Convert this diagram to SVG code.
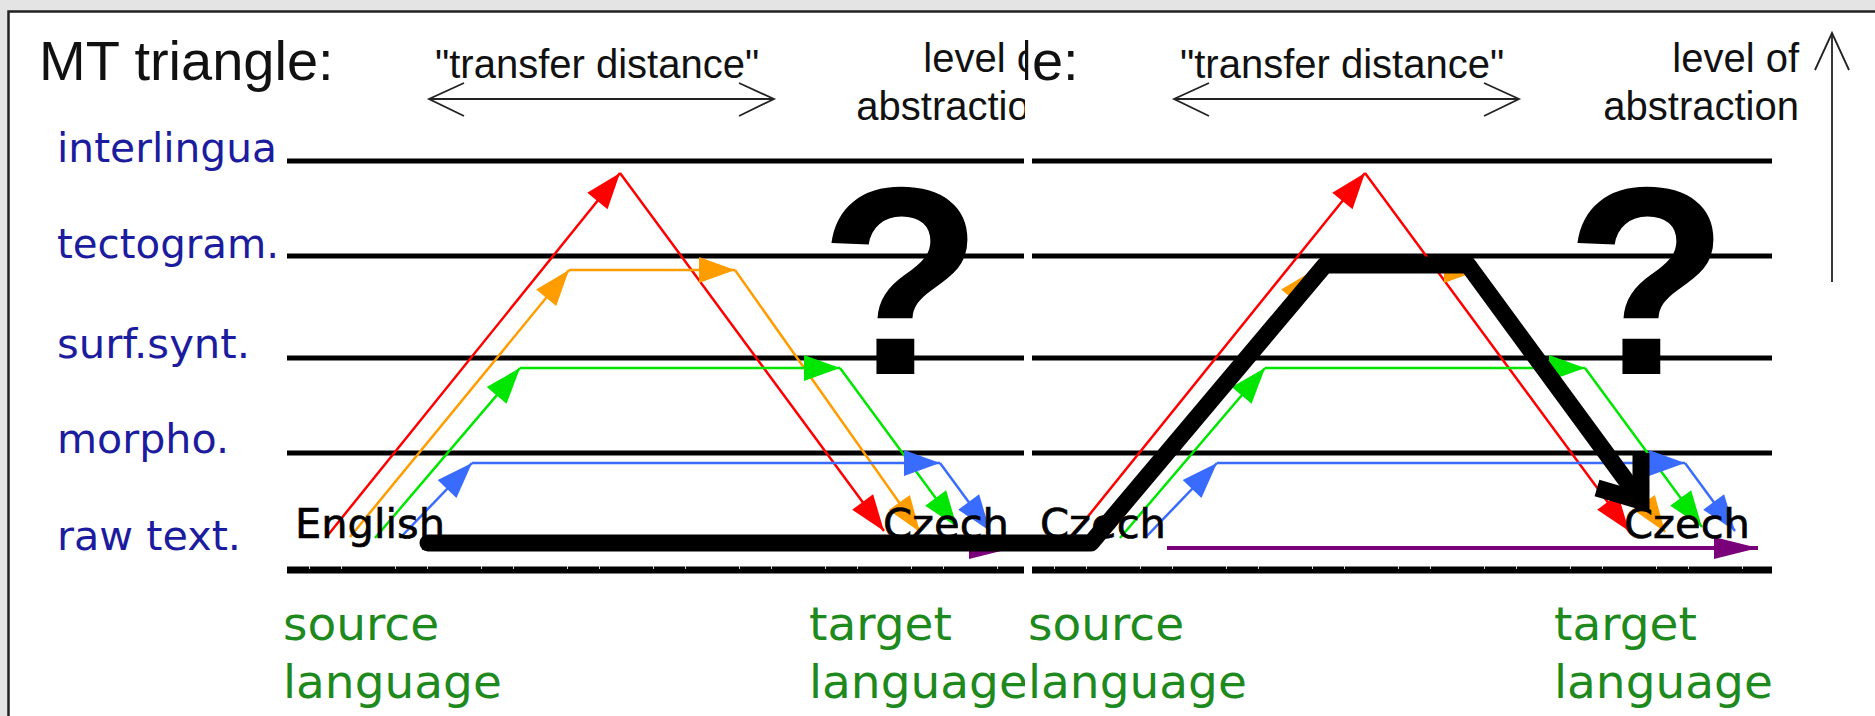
<svg xmlns="http://www.w3.org/2000/svg" width="1875" height="716" viewBox="0 0 1875 716">
<style>
.title{font-family:"Liberation Sans",Arial,sans-serif;font-size:56px;fill:#111}
.hdr{font-family:"Liberation Sans",Arial,sans-serif;font-size:40px;fill:#111}
.lvl{font-family:"DejaVu Sans",sans-serif;font-size:41px;fill:#1c1c9e}
.lang{font-family:"DejaVu Sans",sans-serif;font-size:47px;fill:#1e8a1e}
.word{font-family:"DejaVu Sans",sans-serif;font-size:40px;fill:#000;stroke:#000;stroke-width:0.6}
.q{font-family:"Liberation Sans",Arial,sans-serif;font-weight:bold;font-size:268px;fill:#000}
.lv{stroke:#000;stroke-width:5}
.base{stroke:#000;stroke-width:7}
.tick{stroke:#d8d8d8;stroke-width:3;stroke-dasharray:1 31 1 53}
.thin{stroke:#222;stroke-width:1.8;fill:none}
.c{fill:none;stroke-width:2.5}
.r{stroke:#ff0000}.o{stroke:#ff9c00}.g{stroke:#00e600}.b{stroke:#3a6bff}
.p{stroke:#7a007a;stroke-width:4;fill:none}
.thick{fill:none;stroke:#000;stroke-width:17;stroke-linecap:round;stroke-linejoin:round}
</style>
<defs>
<marker id="mR" viewBox="-38 -15 40 30" refX="0" refY="0" markerWidth="40" markerHeight="30" markerUnits="userSpaceOnUse" orient="auto"><path d="M0 0 L-36 -13 L-36 13 z" fill="#ff0000"/></marker>
<marker id="mO" viewBox="-38 -15 40 30" refX="0" refY="0" markerWidth="40" markerHeight="30" markerUnits="userSpaceOnUse" orient="auto"><path d="M0 0 L-36 -13 L-36 13 z" fill="#ff9c00"/></marker>
<marker id="mG" viewBox="-38 -15 40 30" refX="0" refY="0" markerWidth="40" markerHeight="30" markerUnits="userSpaceOnUse" orient="auto"><path d="M0 0 L-36 -13 L-36 13 z" fill="#00e600"/></marker>
<marker id="mB" viewBox="-38 -15 40 30" refX="0" refY="0" markerWidth="40" markerHeight="30" markerUnits="userSpaceOnUse" orient="auto"><path d="M0 0 L-36 -13 L-36 13 z" fill="#3a6bff"/></marker>
<marker id="mP" viewBox="-46 -13 48 26" refX="0" refY="0" markerWidth="48" markerHeight="26" markerUnits="userSpaceOnUse" orient="auto"><path d="M0 0 L-44 -11 L-44 11 z" fill="#7a007a"/></marker>
<clipPath id="clipL"><rect x="0" y="0" width="1025" height="716"/></clipPath>
<clipPath id="clipR"><rect x="1025" y="0" width="850" height="716"/></clipPath>
</defs>

<g id="frame">
<rect x="0" y="0" width="1875" height="716" fill="#e4e4e4"/>
<rect x="8.5" y="11.5" width="1880" height="720" fill="#fff" stroke="#222" stroke-width="2.5"/>
</g>

<!-- LEFT PANEL -->
<g id="panel-left" clip-path="url(#clipL)">
<g id="title-left"><text class="title" x="39" y="80">MT triangle:</text></g>
<g id="transfer-left">
<text class="hdr" x="435" y="78">"transfer distance"</text>
<line class="thin" x1="429" y1="99" x2="774" y2="99"/>
<polyline class="thin" points="464,83 429,99 464,116"/>
<polyline class="thin" points="739,83 774,99 739,116"/>
</g>
<g id="abstraction-left">
<text class="hdr" x="1050" y="72" text-anchor="end">level of</text>
<text class="hdr" x="1052" y="120" text-anchor="end">abstraction</text>
</g>
<g id="levels-left">
<text class="lvl" x="57" y="162" textLength="220" lengthAdjust="spacingAndGlyphs">interlingua</text>
<text class="lvl" x="57" y="258" textLength="222" lengthAdjust="spacingAndGlyphs">tectogram.</text>
<text class="lvl" x="57" y="358" textLength="193" lengthAdjust="spacingAndGlyphs">surf.synt.</text>
<text class="lvl" x="57" y="453" textLength="172" lengthAdjust="spacingAndGlyphs">morpho.</text>
<text class="lvl" x="57" y="550" textLength="184" lengthAdjust="spacingAndGlyphs">raw text.</text>
</g>
<g id="lines-left">
<line class="lv" x1="287" y1="161" x2="1024" y2="161"/>
<line class="lv" x1="287" y1="256" x2="1024" y2="256"/>
<line class="lv" x1="287" y1="358" x2="1024" y2="358"/>
<line class="lv" x1="287" y1="453" x2="1024" y2="453"/>
<line class="base" x1="287" y1="570" x2="1024" y2="570"/>
<line class="tick" x1="309" y1="567.5" x2="1024" y2="567.5"/>
</g>
<g id="question-left"><text class="q" x="901" y="374" text-anchor="middle">?</text></g>
<g id="connectors-left">
<line class="c r" x1="328" y1="535" x2="620" y2="173" marker-end="url(#mR)"/>
<line class="c r" x1="620" y1="173" x2="884" y2="531" marker-end="url(#mR)"/>
<line class="c o" x1="350" y1="537" x2="569" y2="270" marker-end="url(#mO)"/>
<line class="c o" x1="569" y1="270" x2="735" y2="270" marker-end="url(#mO)"/>
<line class="c o" x1="735" y1="270" x2="920" y2="532" marker-end="url(#mO)"/>
<line class="c g" x1="375" y1="538" x2="520" y2="368" marker-end="url(#mG)"/>
<line class="c g" x1="520" y1="368" x2="840" y2="368" marker-end="url(#mG)"/>
<line class="c g" x1="840" y1="368" x2="957" y2="527" marker-end="url(#mG)"/>
<line class="c b" x1="400" y1="538" x2="472" y2="463" marker-end="url(#mB)"/>
<line class="c b" x1="472" y1="463" x2="940" y2="463" marker-end="url(#mB)"/>
<line class="c b" x1="940" y1="463" x2="990" y2="531" marker-end="url(#mB)"/>
<line class="p" x1="422" y1="548" x2="1013" y2="548" marker-end="url(#mP)"/>
</g>
<g id="words-left">
<text class="word" x="295" y="538" textLength="150" lengthAdjust="spacingAndGlyphs">English</text>
<text class="word" x="883" y="538" textLength="126" lengthAdjust="spacingAndGlyphs">Czech</text>
</g>
<g id="lang-left">
<text class="lang" x="283" y="640">source</text>
<text class="lang" x="283" y="698">language</text>
<text class="lang" x="809" y="640">target</text>
<text class="lang" x="809" y="698">language</text>
</g>
</g>

<!-- RIGHT PANEL -->
<g id="panel-right" clip-path="url(#clipR)">
<g id="title-right"><text class="title" x="784" y="80">MT triangle:</text></g>
<g id="transfer-right">
<text class="hdr" x="1180" y="78">"transfer distance"</text>
<line class="thin" x1="1174" y1="99" x2="1519" y2="99"/>
<polyline class="thin" points="1209,83 1174,99 1209,116"/>
<polyline class="thin" points="1484,83 1519,99 1484,116"/>
</g>
<g id="abstraction-right">
<text class="hdr" x="1799" y="72" text-anchor="end">level of</text>
<text class="hdr" x="1799" y="120" text-anchor="end">abstraction</text>
<line class="thin" x1="1832" y1="34" x2="1832" y2="282"/>
<polyline class="thin" points="1815,70 1832,33 1849,70"/>
</g>
<g id="lines-right">
<line class="lv" x1="1032" y1="161" x2="1772" y2="161"/>
<line class="lv" x1="1032" y1="256" x2="1772" y2="256"/>
<line class="lv" x1="1032" y1="358" x2="1772" y2="358"/>
<line class="lv" x1="1032" y1="453" x2="1772" y2="453"/>
<line class="base" x1="1032" y1="570" x2="1772" y2="570"/>
<line class="tick" x1="1054" y1="567.5" x2="1772" y2="567.5"/>
</g>
<g id="question-right"><text class="q" x="1647" y="374" text-anchor="middle">?</text></g>
<g id="connectors-right">
<line class="c r" x1="1073" y1="535" x2="1365" y2="173" marker-end="url(#mR)"/>
<line class="c r" x1="1365" y1="173" x2="1629" y2="531" marker-end="url(#mR)"/>
<line class="c o" x1="1095" y1="537" x2="1314" y2="270" marker-end="url(#mO)"/>
<line class="c o" x1="1314" y1="270" x2="1480" y2="270" marker-end="url(#mO)"/>
<line class="c o" x1="1480" y1="270" x2="1665" y2="532" marker-end="url(#mO)"/>
<line class="c g" x1="1120" y1="538" x2="1265" y2="368" marker-end="url(#mG)"/>
<line class="c g" x1="1265" y1="368" x2="1585" y2="368" marker-end="url(#mG)"/>
<line class="c g" x1="1585" y1="368" x2="1702" y2="527" marker-end="url(#mG)"/>
<line class="c b" x1="1145" y1="538" x2="1217" y2="463" marker-end="url(#mB)"/>
<line class="c b" x1="1217" y1="463" x2="1685" y2="463" marker-end="url(#mB)"/>
<line class="c b" x1="1685" y1="463" x2="1735" y2="531" marker-end="url(#mB)"/>
<line class="p" x1="1167" y1="548" x2="1758" y2="548" marker-end="url(#mP)"/>
</g>
<g id="words-right">
<text class="word" x="1040" y="538" textLength="126" lengthAdjust="spacingAndGlyphs">Czech</text>
<text class="word" x="1624" y="538" textLength="126" lengthAdjust="spacingAndGlyphs">Czech</text>
</g>
<g id="lang-right">
<text class="lang" x="1028" y="640">source</text>
<text class="lang" x="1028" y="698">language</text>
<text class="lang" x="1554" y="640">target</text>
<text class="lang" x="1554" y="698">language</text>
</g>
</g>

<!-- thick black transfer path on top -->
<g id="connector-thick">
<path class="thick" d="M428 543 L1091 543 L1325 265 L1468 265 L1636 494"/>
<path d="M1641 453 L1641 501 L1597 488" fill="none" stroke="#000" stroke-width="17" stroke-linejoin="miter" stroke-linecap="butt"/>
</g>
</svg>
